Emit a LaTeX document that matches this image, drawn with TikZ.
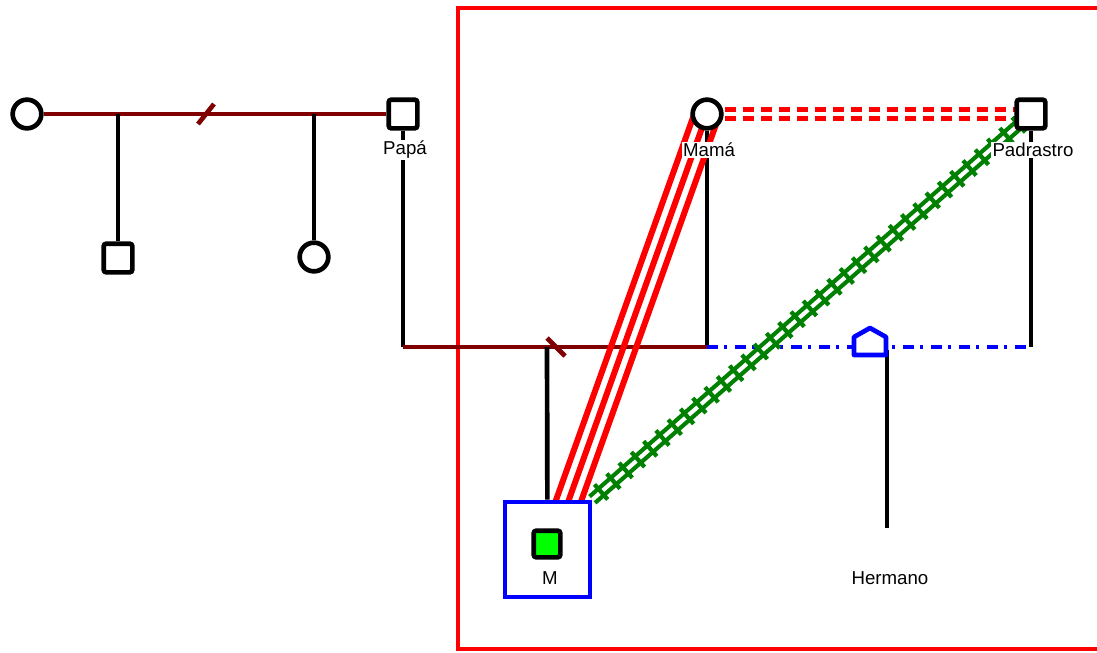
\documentclass[tikz,border=0pt]{standalone}
\usepackage{fontspec}
\setmainfont{Liberation Sans}
\usetikzlibrary{calc}
\pgfdeclarelayer{bg}
\pgfsetlayers{bg,main}

\begin{document}
\begin{tikzpicture}[x=0.75pt,y=-0.75pt,font=\fontsize{14}{16}\selectfont,
  female/.style={circle,draw,line width=3.5pt,fill=white,minimum size=21.5pt,inner sep=0pt},
  male/.style={rectangle,rounded corners=2pt,draw,line width=3.5pt,fill=white,minimum size=21.5pt,inner sep=0pt},
  lbl/.style={fill=white,inner sep=1pt},
  kin/.style={line width=3.5pt},
  union/.style={line width=3.5pt,red!50!black},
  cohab/.style={line width=3.5pt,blue,dash pattern=on 8pt off 5pt on 2pt off 6pt},
  conflict/.style={line width=3.5pt,red,dash pattern=on 8.5pt off 5pt},
  fused/.style={line width=4.5pt,red},
  hostile/.style={line width=3.2pt,green!50!black,double=white,double distance=3pt},
  hostilebar/.style={line width=3.2pt,green!50!black,line cap=square}]
\useasboundingbox (0,0) rectangle (1097,653);
\node[female] (gm1) at (27,114) {};
\node[male] (papa) at (403,114) {};
\node[male] (hno1) at (118,258) {};
\node[female] (hna1) at (314,257) {};
\node[female] (mama) at (707,114) {};
\node[male] (padr) at (1031,114) {};
\node[draw=blue,line width=3.5pt,fill=white,minimum width=63.75pt,minimum height=71.25pt] (mbox) at (547.5,549.5) {};
\node[male,fill=green,minimum size=20pt] (ego) at (547,544) {};
\node[lbl] (papalbl) at (405,150) {Papá};
\node[lbl] (mamalbl) at (709,150) {Mamá};
\node[lbl] (padrlbl) at (1033,150) {Padrastro};
\node[lbl] (egolbl) at (550,578) {M};
\node[lbl] (hermlbl) at (890,578) {Hermano};
\draw[line width=3.5pt,blue,fill=white,line join=round] (854,355) -- (854,337) -- (870,328) -- (886,337) -- (886,355) -- cycle;
\coordinate (pm) at (547,347);
\coordinate (div1) at (206,114);
\coordinate (div2) at (556,347);
\coordinate (hermtop) at (887,350);
\coordinate (hermend) at (887,528);
\coordinate (mtop) at (567,505);
\begin{pgfonlayer}{bg}
\draw[red,line width=3.5pt] (458,8) rectangle (1112,649);
\draw[union] (gm1) -- (papa);
\draw[union] ($(div1)+(-8,10)$) -- ($(div1)+(8,-10)$);
\draw[kin] (hno1) -- (hno1 |- gm1);
\draw[kin] (hna1) -- (hna1 |- gm1);
\draw[kin] (papa) -- (papa |- pm);
\draw[kin] (mama) -- (mama |- pm);
\draw[kin] (padr) -- (padr |- pm);
\draw[union] (papa |- pm) -- (mama |- pm);
\draw[union] ($(div2)+(-9,-9)$) -- ($(div2)+(9,9)$);
\draw[kin] (pm) -- (mbox);
\draw[cohab] (mama |- pm) -- (padr |- pm);
\draw[kin] (hermtop) -- (hermend);
\draw[conflict] ($(mama.center)+(0,-4.5)$) -- ($(padr.center)+(0,-4.5)$);
\draw[conflict] ($(mama.center)+(0,4.5)$) -- ($(padr.center)+(0,4.5)$);
\foreach \o in {-9pt,0pt,9pt}
  \draw[fused] ($(mtop)!\o!90:(mama.center)$) -- ($(mama.center)!\o!-90:(mtop)$);
\draw[hostile] (mbox.north east) -- (padr.center);
\foreach \t in {0.02,0.048,...,0.99}
  \draw[hostilebar] ($($(mbox.north east)!\t!(padr.center)$)!7.5pt!90:(padr.center)$)
    -- ($($(mbox.north east)!\t!(padr.center)$)!7.5pt!-90:(padr.center)$);
\end{pgfonlayer}
\end{tikzpicture}
\end{document}
